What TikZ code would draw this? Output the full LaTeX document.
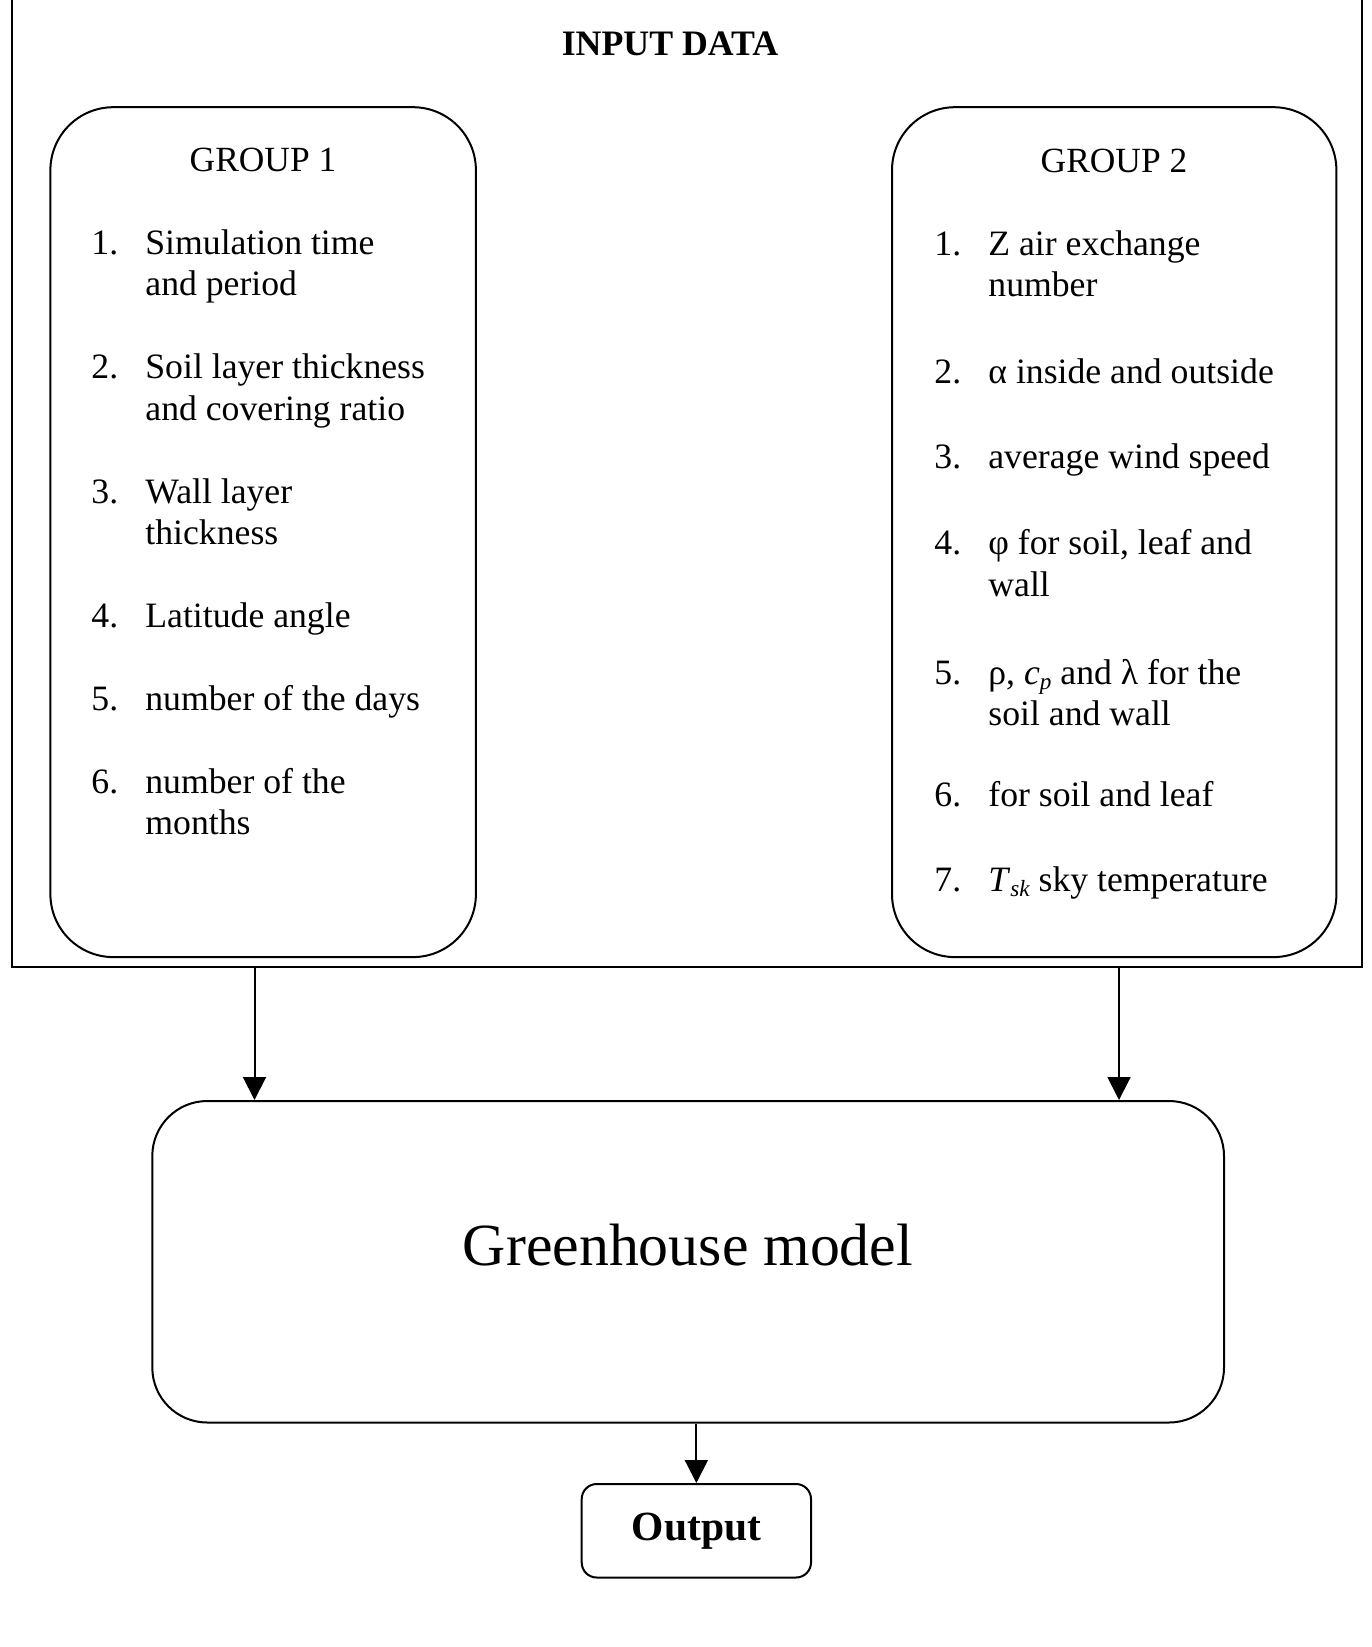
\documentclass[tikz,border=0pt]{standalone}
\usepackage{fontspec}
\setmainfont{Liberation Serif}
\usetikzlibrary{arrows.meta}
\newcommand{\sbs}[1]{\raisebox{-2.6pt}{\fontsize{11.6}{12}\selectfont\itshape #1}}
\newcommand{\numcol}[1]{\makebox[27pt][l]{#1}}
\tikzset{
  box/.style={draw, line width=1pt, inner sep=0pt},
  txt/.style={anchor=base west, inner sep=0pt, font=\fontsize{17.85}{20}\selectfont},
  ttl/.style={anchor=base, inner sep=0pt, font=\fontsize{17.7}{20}\selectfont},
  arr/.style={line width=1pt, -{Triangle[width=11.5pt,length=11.5pt]}},
}
\begin{document}
\begin{tikzpicture}[x=0.5pt,y=-0.5pt]
\useasboundingbox (0,0) rectangle (1371,1647);
% outer container (top edge outside the picture)
\coordinate (otl) at (11.7,-2);
\coordinate (obl) at (11.7,966.7);
\coordinate (obr) at (1362,966.7);
\coordinate (otr) at (1362,-2);
\draw[line width=1.1pt] (otl) -- (obl) -- (obr) -- (otr);
\node[ttl, font=\fontsize{17.9}{20}\selectfont\bfseries] (title) at (670,56) {INPUT DATA};

% group boxes
\node[box, rounded corners=31.5pt, minimum width=212.75pt, minimum height=424.95pt] (g1) at (263.15,532.15) {};
\node[box, rounded corners=31.5pt, minimum width=222.2pt, minimum height=424.95pt] (g2) at (1114.2,532.15) {};

% group 1 text
\node[ttl] (g1t) at (263,172) {GROUP 1};
\node[txt] (g1a) at (91,255) {\numcol{1.}Simulation time};
\node[txt] (g1b) at (145,296) {and period};
\node[txt] (g1c) at (91,379) {\numcol{2.}Soil layer thickness};
\node[txt] (g1d) at (145,420) {and covering ratio};
\node[txt] (g1e) at (91,503) {\numcol{3.}Wall layer};
\node[txt] (g1f) at (145,544) {thickness};
\node[txt] (g1g) at (91,627) {\numcol{4.}Latitude angle};
\node[txt] (g1h) at (91,710) {\numcol{5.}number of the days};
\node[txt] (g1i) at (91,793) {\numcol{6.}number of the};
\node[txt] (g1j) at (145,834) {months};

% group 2 text
\node[ttl] (g2t) at (1114,173) {GROUP 2};
\node[txt] (g2a) at (934,256) {\numcol{1.}Z air exchange};
\node[txt] (g2b) at (988,297) {number};
\node[txt] (g2c) at (934,383) {\numcol{2.}α inside and outside};
\node[txt] (g2d) at (934,468) {\numcol{3.}average wind speed};
\node[txt] (g2e) at (934,554) {\numcol{4.}φ for soil, leaf and};
\node[txt] (g2f) at (988,596) {wall};
\node[txt] (g2g) at (934,684) {\numcol{5.}ρ, \textit{c}\sbs{p} and λ for the};
\node[txt] (g2h) at (988,725) {soil and wall};
\node[txt] (g2i) at (934,806) {\numcol{6.}for soil and leaf};
\node[txt] (g2j) at (934,891) {\numcol{7.}\textit{T}\sbs{sk} sky temperature};

% model and output
\node[box, rounded corners=27.5pt, minimum width=535.85pt, minimum height=160.75pt] (gh) at (688.15,1261.75) {};
\node[anchor=base, inner sep=0pt, font=\fontsize{29.9}{32}\selectfont] (ght) at (688,1265) {Greenhouse model};
\node[box, rounded corners=7.5pt, minimum width=114.65pt, minimum height=46.75pt] (out) at (696.35,1530.75) {};
\node[anchor=base, inner sep=0pt, font=\fontsize{20.75}{22}\selectfont\bfseries] (outt) at (696.5,1540) {Output};

% connectors
\coordinate (a1) at (254.5,966.7);
\coordinate (a2) at (1119,966.7);
\draw[arr] (a1) -- (a1 |- gh.north);
\draw[arr] (a2) -- (a2 |- gh.north);
\draw[arr] (gh.south -| out.north) -- (out.north);
\end{tikzpicture}
\end{document}
